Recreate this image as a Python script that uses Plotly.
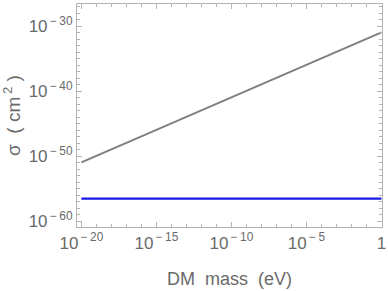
import plotly.graph_objects as go

# data
mass_ev = [1e-20, 1e-15, 1e-10, 1e-5, 1.0]
sigma_gray = [1.2e-51, 1.2e-46, 1.2e-41, 1.15e-36, 1.1e-31]
sigma_blue = [3.1e-57, 3.1e-57, 3.1e-57, 3.1e-57, 3.1e-57]

x_tickvals = [1e-20, 1e-15, 1e-10, 1e-5, 1]
x_ticktext = ["10<sup>\u2009\u2212\u200920</sup>", "10<sup>\u2009\u2212\u200915</sup>",
              "10<sup>\u2009\u2212\u200910</sup>", "10<sup>\u2009\u2212\u20095</sup>", "1"]
y_tickvals = [1e-60, 1e-50, 1e-40, 1e-30]
y_ticktext = ["10<sup>\u2009\u2212\u200960</sup>", "10<sup>\u2009\u2212\u200950</sup>",
              "10<sup>\u2009\u2212\u200940</sup>", "10<sup>\u2009\u2212\u200930</sup>"]

FONT = "Liberation Sans, Arial, sans-serif"
TXT = "#6a6a6a"
FRAME = "#b4b4b4"

fig = go.Figure()
fig.add_trace(go.Scatter(x=mass_ev, y=sigma_gray, mode="lines",
                         line=dict(color="#7f7f7f", width=2), showlegend=False))
fig.add_trace(go.Scatter(x=mass_ev, y=sigma_blue, mode="lines",
                         line=dict(color="#1a1ae6", width=2.2), showlegend=False))

axis_common = dict(
    showgrid=False, zeroline=False, showline=True, linecolor=FRAME, linewidth=1.2,
    mirror="allticks", ticks="inside", ticklen=5, tickwidth=1, tickcolor=FRAME,
    tickfont=dict(family=FONT, size=17, color=TXT),
)

fig.update_xaxes(type="log", range=[-20.29, 0.04], tickmode="array",
                 tickvals=x_tickvals, ticktext=x_ticktext,
                 minor=dict(dtick=1, ticks="inside", ticklen=3, tickcolor=FRAME, tickwidth=1),
                 title=dict(text="DM  mass  (eV)", font=dict(family=FONT, size=18, color=TXT),
                            standoff=20),
                 **axis_common)
fig.update_yaxes(type="log", range=[-60.86, -26.6], tickmode="array",
                 tickvals=y_tickvals, ticktext=y_ticktext,
                 minor=dict(dtick=1, ticks="inside", ticklen=3, tickcolor=FRAME, tickwidth=1),
                 title=dict(text="\u03c3  ( cm<sup>\u20092</sup> )", font=dict(family=FONT, size=19, color=TXT),
                            standoff=6),
                 **axis_common)

fig.update_layout(
    width=388, height=291,
    margin=dict(l=77, r=6, t=4, b=64, autoexpand=False),
    paper_bgcolor="white", plot_bgcolor="white",
)

fig.write_html("out.html", config={"displayModeBar": False},
               post_script="document.body.style.margin='0';")
